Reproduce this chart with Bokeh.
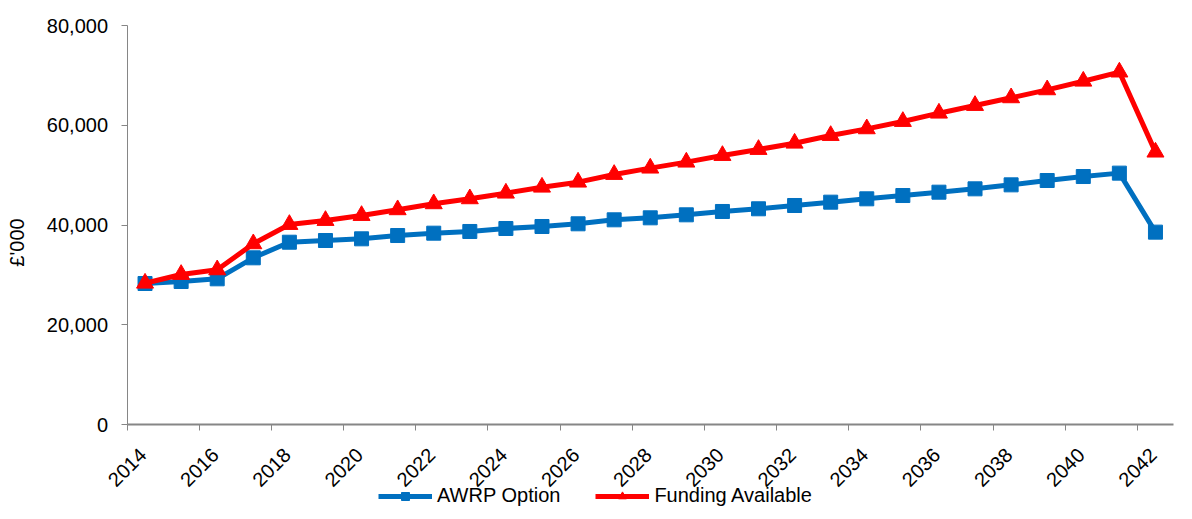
import math
from bokeh.plotting import figure
from bokeh.models import (FixedTicker, NumeralTickFormatter, CustomJSTickFormatter,
                          Range1d, Legend, LegendItem, Label)
from bokeh.embed import file_html
from bokeh.resources import INLINE

# Annual values (£'000), plotted at mid-year positions
years = list(range(2014, 2043))
awrp_option = [28270, 28670, 29210, 33420, 36550, 36890, 37230, 37890, 38360, 38700,
               39300, 39700, 40240, 41040, 41440, 42040, 42710, 43250, 43910, 44580,
               45250, 45910, 46580, 47250, 48050, 48920, 49720, 50400, 38570]
funding_available = [28330, 30080, 31010, 36230, 40100, 40900, 41900, 43050, 44250, 45250,
                     46380, 47580, 48590, 50130, 51400, 52600, 53930, 55140, 56400, 57940,
                     59280, 60750, 62420, 63960, 65500, 67100, 68830, 70660, 54610]
tick_years = list(range(2014, 2043, 2))
y_ticks = [0, 20000, 40000, 60000, 80000]

FONT = "Liberation Sans"
BLUE = "#0070C0"
RED = "#FF0000"
AXIS_GREY = "#868686"
LABEL_SHIFT = 0.44

W, H = 1192, 519
X0, X1 = 2014, 2043
Y0, Y1 = 0, 80000
# pixel extent of the plotting area inside the page
LEFT, RIGHT, TOP, BOTTOM = 126.5, 1173, 25, 424

x_per_px = (X1 - X0) / (RIGHT - LEFT)
y_per_px = (Y1 - Y0) / (BOTTOM - TOP)


def px_x(px):
    return X0 + (px - LEFT) * x_per_px


def px_y(py):
    return Y0 + (BOTTOM - py) * y_per_px


xs = [y + 0.5 for y in years]

# The frame covers the whole page; both axes are pinned at the data origin so
# their labels, the axis title and the legend sit inside it.
p = figure(width=W, height=H, output_backend="svg", toolbar_location=None,
           x_range=Range1d(px_x(0), px_x(W)), y_range=Range1d(px_y(H), px_y(0)),
           min_border=0)
p.outline_line_color = None
p.xgrid.visible = False
p.ygrid.visible = False
p.background_fill_color = "white"
p.border_fill_color = "white"

# x axis: tick marks at the year boundaries, labels shifted so they sit under each tick
xa = p.xaxis[0]
xa.fixed_location = Y0
xa.bounds = (X0, X1)
xa.ticker = FixedTicker(ticks=[t + LABEL_SHIFT for t in tick_years], minor_ticks=tick_years)
xa.formatter = CustomJSTickFormatter(code="return String(Math.round(tick - %s));" % LABEL_SHIFT)
xa.major_tick_line_color = None
xa.major_tick_out = 6
xa.major_tick_in = 0
xa.minor_tick_line_color = AXIS_GREY
xa.minor_tick_out = 6
xa.minor_tick_in = 0
xa.minor_tick_line_width = 1
xa.axis_line_color = AXIS_GREY
xa.axis_line_width = 2
xa.major_label_orientation = math.pi / 4
xa.major_label_standoff = 21
xa.major_label_text_font = FONT
xa.major_label_text_font_size = "20px"
xa.major_label_text_color = "black"

ya = p.yaxis[0]
ya.fixed_location = X0
ya.bounds = (Y0, Y1)
ya.ticker = FixedTicker(ticks=y_ticks, minor_ticks=[])
ya.formatter = NumeralTickFormatter(format="0,0")
ya.major_tick_out = 6
ya.major_tick_in = 0
ya.major_tick_line_color = AXIS_GREY
ya.axis_line_color = AXIS_GREY
ya.axis_line_width = 1
ya.major_label_standoff = 13
ya.major_label_text_font = FONT
ya.major_label_text_font_size = "20px"
ya.major_label_text_color = "black"

# value-axis title
p.add_layout(Label(x=px_x(16), y=px_y(242), text="£'000", angle=math.pi / 2,
                   text_align="center", text_baseline="middle", text_font=FONT,
                   text_font_size="20px", text_color="black"))

l1 = p.line(xs, awrp_option, line_color=BLUE, line_width=5)
m1 = p.scatter(xs, awrp_option, marker="square", size=14, fill_color=BLUE, line_color=BLUE)
l2 = p.line(xs, funding_available, line_color=RED, line_width=5)
m2 = p.scatter(xs, funding_available, marker="triangle", size=17, fill_color=RED, line_color=RED)

legend = Legend(items=[LegendItem(label="AWRP Option", renderers=[l1, m1]),
                       LegendItem(label="Funding Available", renderers=[l2, m2])],
                orientation="horizontal", location=(378, 12),
                glyph_width=54, glyph_height=20, label_height=20, label_standoff=5,
                spacing=35, padding=0, margin=0, border_line_color=None,
                background_fill_alpha=0, label_text_font=FONT,
                label_text_font_size="20px", label_text_color="black")
p.add_layout(legend, "center")

open("out.html", "w").write(file_html(p, INLINE))
